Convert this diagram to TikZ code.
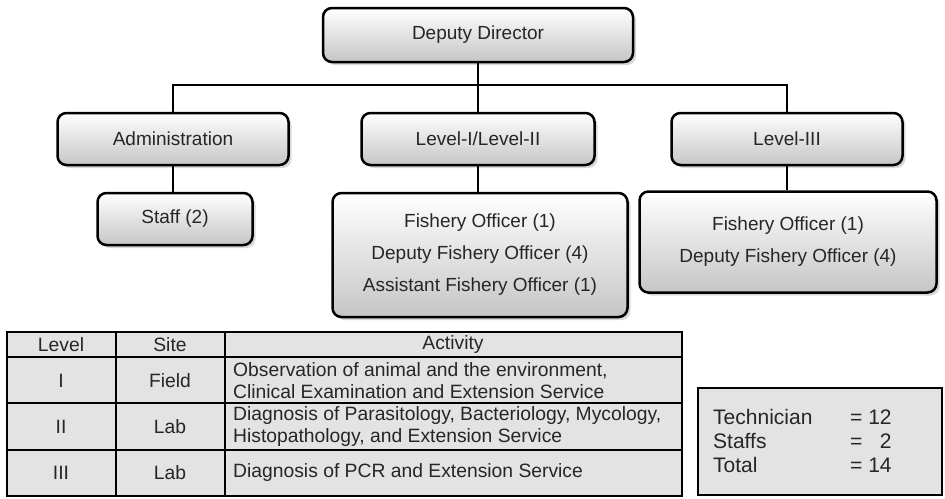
\documentclass[tikz,border=0pt]{standalone}
\usepackage{fontspec}
\setmainfont{Liberation Sans}
\usetikzlibrary{shadows}

\tikzset{
  orgbox/.style={draw, line width=2.5pt, rounded corners=9pt,
    top color=white, bottom color=gray!45,
    drop shadow={shadow xshift=3pt, shadow yshift=-3pt, opacity=0.3},
    align=center, text=black!85, font=\fontsize{19}{32}\selectfont},
  link/.style={line width=2.5pt},
  rule/.style={line width=2.8pt},
  cell/.style={inner sep=0pt, text=black!85, font=\fontsize{19.3}{22}\selectfont}
}

\begin{document}
\begin{tikzpicture}[x=1pt,y=-1pt]
\useasboundingbox (0,0) rectangle (945,498);

% organisation chart
\node[orgbox, minimum width=310pt, minimum height=54pt] (dd) at (478,35) {Deputy Director};
\node[orgbox, minimum width=231pt, minimum height=52pt] (adm) at (173,139) {Administration};
\node[orgbox, minimum width=233pt, minimum height=52pt] (lvl12) at (478,139) {Level-I/Level-II};
\node[orgbox, minimum width=231pt, minimum height=52pt] (lvl3) at (787,139) {Level-III};
\node[orgbox, minimum width=155pt, minimum height=52pt] (staff) at (175,219) {Staff (2)};
\node[orgbox, minimum width=295pt, minimum height=124pt] (off12) at (480,255)
  {Fishery Officer (1)\\Deputy Fishery Officer (4)\\Assistant Fishery Officer (1)};
\node[orgbox, minimum width=297pt, minimum height=101pt] (off3) at (788,242)
  {Fishery Officer (1)\\Deputy Fishery Officer (4)};

\coordinate (bus) at (478,85);
\draw[link] (dd.south) -- (bus);
\draw[link] (adm.north) |- (bus) -| (lvl3.north);
\draw[link] (bus) -- (lvl12.north);
\draw[link] (adm.south) -- (adm.south |- staff.north);
\draw[link] (lvl12.south) -- (lvl12.south |- off12.north);
\draw[link] (lvl3.south) -- (lvl3.south |- off3.north);

% table of levels
\fill[gray!22] (7,332) rectangle (682,496);
\foreach \y in {357,403,450}
  \draw[rule] (7,\y) -- (682,\y);
\foreach \x in {116,225}
  \draw[line width=2pt] (\x,332) -- (\x,496);
\draw[rule] (7,332) rectangle (682,496);

\node[cell] (hlevel) at (61,345) {Level};
\node[cell] (hsite) at (170,345) {Site};
\node[cell] (hact) at (453,345) {Activity};

\node[cell] (lvA) at (61,381) {I};
\node[cell] (stA) at (170,381) {Field};
\node[cell, anchor=west, align=left] (acA) at (233,381)
  {Observation of animal and the environment,\\Clinical Examination and Extension Service};

\node[cell] (lvB) at (61,427) {II};
\node[cell] (stB) at (170,427) {Lab};
\node[cell, anchor=west, align=left] (acB) at (233,427)
  {Diagnosis of Parasitology, Bacteriology, Mycology,\\Histopathology, and Extension Service};

\node[cell] (lvC) at (61,473) {III};
\node[cell] (stC) at (170,473) {Lab};
\node[cell, anchor=west] (acC) at (233,473) {Diagnosis of PCR and Extension Service};

% totals
\draw[rule, fill=gray!22] (698,388) rectangle (942,495);
\node[anchor=west, inner sep=0pt, text=black!85, font=\fontsize{21}{24}\selectfont] (sums) at (713,444)
  {\begin{tabular}{@{}p{137pt}@{}l@{}}
   Technician & = 12\\
   Staffs & = \phantom{1}2\\
   Total & = 14
   \end{tabular}};
\end{tikzpicture}
\end{document}
